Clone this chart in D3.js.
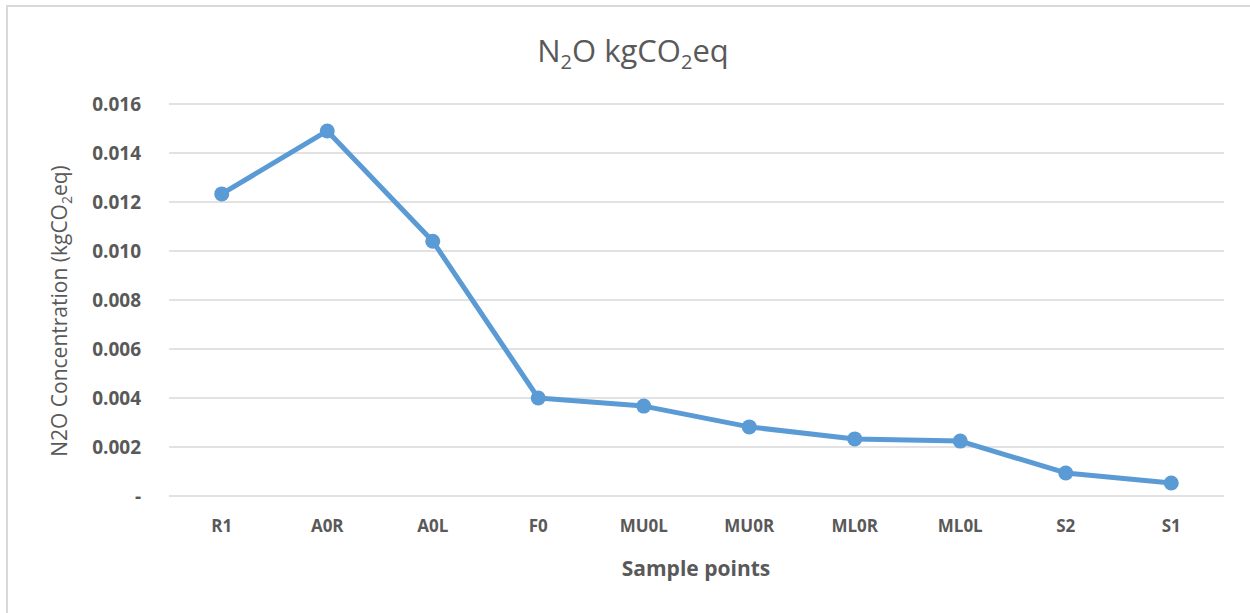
<!DOCTYPE html>
<html>
<head>
<meta charset="utf-8">
<script src="https://cdn.jsdelivr.net/npm/d3@7"></script>
<style>
  body { margin: 0; background: #fff; }
  text { font-family: "Open Sans", Lato, sans-serif; fill: #595959; }
</style>
</head>
<body>
<script>
var categories = ["R1", "A0R", "A0L", "F0", "MU0L", "MU0R", "ML0R", "ML0L", "S2", "S1"];
var values = [0.01233, 0.0149, 0.01040, 0.0040, 0.00367, 0.00282, 0.00233, 0.00224, 0.00094, 0.00053];
var yTicks = [0, 0.002, 0.004, 0.006, 0.008, 0.010, 0.012, 0.014, 0.016];

var width = 1250;
var height = 613;
var plotLeft = 169, plotRight = 1224, plotTop = 104, plotBottom = 496;

var svg = d3.select("body")
    .append("svg")
    .attr("width", width)
    .attr("height", height);

// chart border
svg.append("rect")
    .attr("x", 7)
    .attr("y", 6)
    .attr("width", 1260)
    .attr("height", 620)
    .attr("fill", "none")
    .attr("stroke", "#d9d9d9")
    .attr("stroke-width", 2);

var x = d3.scaleBand()
    .domain(categories)
    .range([plotLeft, plotRight]);

var y = d3.scaleLinear()
    .domain([0, 0.016])
    .range([plotBottom, plotTop]);

// gridlines
svg.append("g")
    .selectAll("line")
    .data(yTicks)
    .enter()
    .append("line")
    .attr("x1", plotLeft)
    .attr("x2", plotRight)
    .attr("y1", function(d) { return y(d); })
    .attr("y2", function(d) { return y(d); })
    .attr("stroke", "#d9d9d9")
    .attr("stroke-width", 1.5);

// y axis labels
var yAxis = d3.axisLeft(y)
    .tickValues(yTicks)
    .tickSize(0)
    .tickPadding(28)
    .tickFormat(function(d) { return d == 0 ? "-" : d3.format(".3f")(d); });

var gy = svg.append("g")
    .attr("transform", "translate(" + plotLeft + ",0)")
    .call(yAxis);
gy.select(".domain").remove();
gy.selectAll("text")
    .style("font-size", "19px")
    .style("font-weight", "bold")
    .style("font-family", "'Open Sans', sans-serif")
    .attr("fill", "#595959");

// x axis labels
var xAxis = d3.axisBottom(x).tickSize(0).tickPadding(24);
var gx = svg.append("g")
    .attr("transform", "translate(0," + plotBottom + ")")
    .call(xAxis);
gx.select(".domain").remove();
gx.selectAll("text")
    .style("font-size", "17px")
    .style("font-weight", "bold")
    .style("font-family", "'Open Sans', sans-serif")
    .attr("fill", "#595959");

// line
var line = d3.line()
    .x(function(d, i) { return x(categories[i]) + x.bandwidth() / 2; })
    .y(function(d) { return y(d); });

svg.append("path")
    .datum(values)
    .attr("d", line)
    .attr("fill", "none")
    .attr("stroke", "#5b9bd5")
    .attr("stroke-width", 5)
    .attr("stroke-linejoin", "round");

svg.append("g")
    .selectAll("circle")
    .data(values)
    .enter()
    .append("circle")
    .attr("cx", function(d, i) { return x(categories[i]) + x.bandwidth() / 2; })
    .attr("cy", function(d) { return y(d); })
    .attr("r", 7.5)
    .attr("fill", "#5b9bd5");

// title
var title = svg.append("text")
    .attr("x", 633)
    .attr("y", 62)
    .attr("text-anchor", "middle")
    .style("font-size", "31px");
title.append("tspan").text("N");
title.append("tspan").attr("dy", 7).style("font-size", "20px").text("2");
title.append("tspan").attr("dy", -7).text("O kgCO");
title.append("tspan").attr("dy", 7).style("font-size", "20px").text("2");
title.append("tspan").attr("dy", -7).text("eq");

// x axis title
svg.append("text")
    .attr("x", 696)
    .attr("y", 576)
    .attr("text-anchor", "middle")
    .style("font-size", "21px")
    .style("font-weight", "bold")
    .text("Sample points");

// y axis title
var yt = svg.append("text")
    .attr("transform", "translate(67,311) rotate(-90)")
    .attr("text-anchor", "middle")
    .style("font-size", "21px");
yt.append("tspan").text("N2O Concentration (kgCO");
yt.append("tspan").attr("dy", 5).style("font-size", "14px").text("2");
yt.append("tspan").attr("dy", -5).text("eq)");
</script>
</body>
</html>
